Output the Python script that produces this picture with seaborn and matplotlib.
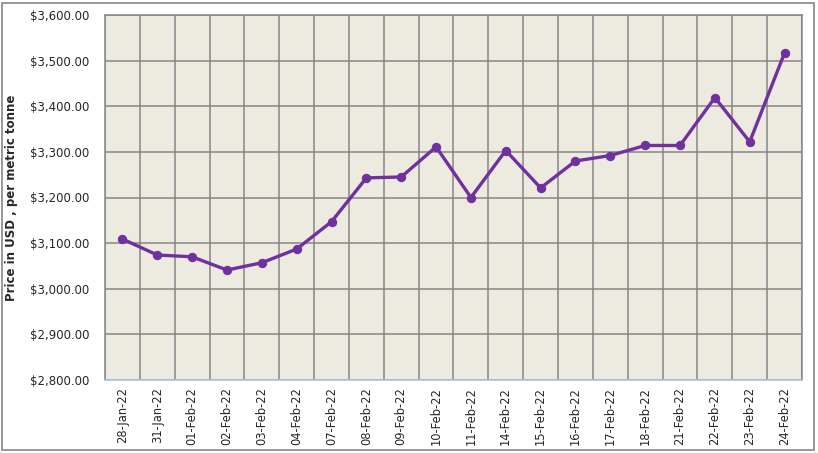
import matplotlib
matplotlib.use("Agg")
import matplotlib.pyplot as plt
import seaborn as sns
import pandas as pd
from matplotlib.ticker import FuncFormatter, MultipleLocator
from matplotlib.patches import Rectangle

dates = ["28-Jan-22", "31-Jan-22", "01-Feb-22", "02-Feb-22", "03-Feb-22", "04-Feb-22",
         "07-Feb-22", "08-Feb-22", "09-Feb-22", "10-Feb-22", "11-Feb-22", "14-Feb-22",
         "15-Feb-22", "16-Feb-22", "17-Feb-22", "18-Feb-22", "21-Feb-22", "22-Feb-22",
         "23-Feb-22", "24-Feb-22"]
prices = [3109, 3074, 3070, 3041, 3057, 3087, 3147, 3243, 3245, 3311, 3200, 3303,
          3221, 3280, 3292, 3314, 3314, 3419, 3322, 3517]

df = pd.DataFrame({"date": dates, "price": prices})
df["pos"] = range(len(df))

sns.set_style("white")
plt.rcParams["font.family"] = ["DejaVu Sans"]

fig = plt.figure(figsize=(8.18, 4.53), dpi=100)
ax = fig.add_axes([105/818, 1 - 380/453, (802-105)/818, (380-15)/453])
ax.set_facecolor("#EDEAE0")

sns.lineplot(data=df, x="pos", y="price", ax=ax, color="#7030A0", linewidth=2.4,
             marker="o", markersize=6, markeredgecolor="#7030A0", zorder=3)

n = len(dates)
ax.set_xlim(-0.5, n - 0.5)
ax.set_ylim(2800, 3600)
ax.yaxis.set_major_locator(MultipleLocator(100))
ax.yaxis.set_major_formatter(FuncFormatter(lambda v, p: f"${v:,.2f}"))
ax.set_xticks(range(n))
ax.set_xticklabels(dates, rotation=90, fontsize=8.3)
ax.tick_params(axis="y", labelsize=8.5, length=0, pad=11)
ax.tick_params(axis="x", length=0, pad=5)

# vertical gridlines between categories
for b in range(n + 1):
    ax.axvline(b - 0.5, color="#868686", linewidth=1.1, zorder=1)
ax.grid(axis="y", color="#868686", linewidth=1.1, zorder=1)
ax.set_axisbelow(True)

for s in ["top", "right", "left"]:
    ax.spines[s].set_visible(True)
    ax.spines[s].set_color("#868686")
    ax.spines[s].set_linewidth(1.1)
ax.spines["bottom"].set_color("#A9C4E4")
ax.spines["bottom"].set_linewidth(1.2)

ax.set_xlabel("")
ax.set_ylabel("Price in USD , per metric tonne", fontsize=8.5, fontweight="bold", labelpad=9)

fig.patches.append(Rectangle((2/818, 3/453), 812/818, 447/453, transform=fig.transFigure,
                             fill=False, edgecolor="#868686", linewidth=1.2))

fig.savefig("out.png", dpi=100)
